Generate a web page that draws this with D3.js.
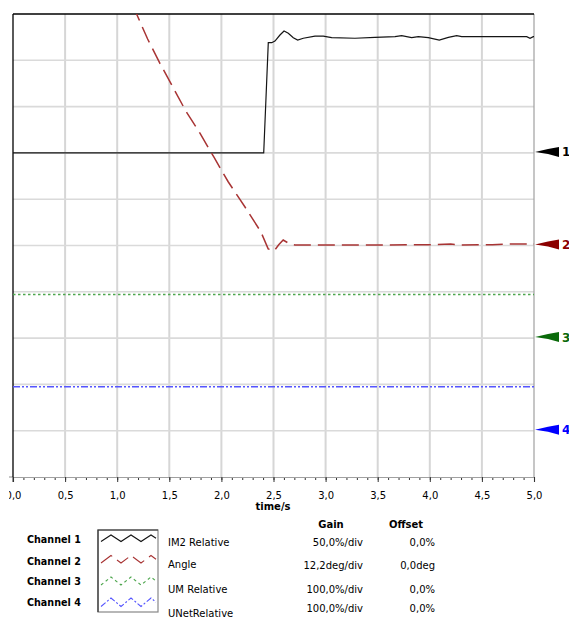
<!DOCTYPE html>
<html>
<head>
<meta charset="utf-8">
<script src="https://cdn.jsdelivr.net/npm/d3@7"></script>
<style>
  html, body { margin: 0; padding: 0; background: #fff; }
  svg { display: block; font-family: "DejaVu Sans", Verdana, sans-serif; }
</style>
</head>
<body>
<svg id="chart" width="569" height="619"></svg>
<script>
// ---- data ----
// Channel 1: IM2 Relative (%)
const ch1Time  = [0, 2.406, 2.450, 2.483, 2.514, 2.562, 2.601, 2.642, 2.690, 2.732, 2.786, 2.898, 2.978, 3.058, 3.282, 3.474, 3.666, 3.730, 3.826, 3.890, 3.986, 4.091, 4.178, 4.258, 4.306, 4.930, 4.962, 4.993, 5.0];
const ch1Value = [0, 0, 119.0, 119.0, 120.8, 127.3, 131.6, 129.2, 124.4, 121.9, 123.8, 126.2, 126.2, 124.4, 123.8, 124.8, 125.5, 126.6, 124.4, 125.5, 124.4, 121.9, 124.8, 126.6, 125.5, 125.5, 123.8, 125.5, 125.5];
// Channel 2: Angle (deg)
const ch2Time  = [1.15, 1.186, 1.292, 1.410, 1.537, 1.659, 1.794, 1.930, 2.065, 2.225, 2.379, 2.449, 2.506, 2.550, 2.593, 2.657, 2.705, 3.0, 3.5, 4.0, 4.2, 4.3, 4.6, 4.8, 5.0];
const ch2Value = [63.4, 61.0, 54.4, 48.0, 41.6, 35.4, 29.6, 23.2, 16.8, 10.2, 3.6, -0.9, -1.45, 0.2, 1.45, 0.4, 0.13, 0.13, 0.13, 0.2, 0.4, 0.13, 0.2, 0.4, 0.4];
// Channel 3: UM Relative (%)
const ch3Time  = [0, 5];
const ch3Value = [94, 94];
// Channel 4: UNetRelative (%)
const ch4Time  = [0, 5];
const ch4Value = [95, 95];

// Channel settings
const channelNames  = ["Channel 1", "Channel 2", "Channel 3", "Channel 4"];
const signalNames   = ["IM2 Relative", "Angle", "UM Relative", "UNetRelative"];
const gains         = [50, 12.2, 100, 100];          // units per division
const offsetsDiv    = [7, 5, 3, 1];                  // zero position in divisions
const gainLabels    = ["50,0%/div", "12,2deg/div", "100,0%/div", "100,0%/div"];
const offsetLabels  = ["0,0%", "0,0deg", "0,0%", "0,0%"];
const xTickValues   = [0, 0.5, 1, 1.5, 2, 2.5, 3, 3.5, 4, 4.5, 5];
const xAxisTitle    = "time/s";

// ---- layout ----
const svg = d3.select("#chart");
const L = 13, R = 534, T = 14, B = 477;

const x = d3.scaleLinear().domain([0, 5]).range([L, R]);
const yDiv = d3.scaleLinear().domain([0, 10]).range([B, T]);

const lineColors   = ["#151515", "#a83434", "#4ea64e", "#5555ff"];
const markerColors = ["#000000", "#8b0000", "#0a6a0a", "#0000ff"];
const dashes       = [null, "17,7", "2.5,2.5", "7,2,2,2,2,2"];

svg.append("rect").attr("width", 569).attr("height", 619).attr("fill", "#fff");

const defs = svg.append("defs");
defs.append("clipPath").attr("id", "plotClip")
  .append("rect").attr("x", L).attr("y", T).attr("width", R - L).attr("height", B - T);
defs.append("clipPath").attr("id", "labelClip")
  .append("rect").attr("x", 9).attr("y", 470).attr("width", 560).attr("height", 60);

// grid
const grid = svg.append("g");
grid.selectAll("line.v").data(d3.range(1, 10)).join("line")
  .attr("x1", d => x(d * 0.5)).attr("x2", d => x(d * 0.5))
  .attr("y1", T).attr("y2", B)
  .attr("stroke", "#d6d6d6").attr("stroke-width", 2);
grid.selectAll("line.h").data(d3.range(1, 10)).join("line")
  .attr("x1", L).attr("x2", R)
  .attr("y1", d => yDiv(d)).attr("y2", d => yDiv(d))
  .attr("stroke", "#dadada").attr("stroke-width", 1.6);

// frame
svg.append("line").attr("x1", R).attr("x2", R).attr("y1", T).attr("y2", B)
  .attr("stroke", "#a0a0a0").attr("stroke-width", 1.2);

// x axis: minor ticks
const minorAxis = d3.axisBottom(x).tickValues(d3.range(0, 51).map(i => i / 10))
  .tickSize(3).tickFormat("");
svg.append("g").attr("transform", `translate(0,${B})`).call(minorAxis)
  .call(g => g.select(".domain").remove())
  .call(g => g.selectAll("line").attr("stroke", "#333"));

// x axis: major ticks and labels (clipped on the left edge)
const fmt = d3.format(".1f");
const majorAxis = d3.axisBottom(x).tickValues(xTickValues)
  .tickSize(5).tickPadding(10).tickFormat(d => fmt(d).replace(".", ","));
const axWrap = svg.append("g").attr("clip-path", "url(#labelClip)");
const ax = axWrap.append("g").attr("transform", `translate(0,${B})`).call(majorAxis);
ax.select(".domain").attr("stroke", "#a0a0a0").attr("stroke-width", 1.2);
ax.selectAll("line").attr("stroke", "#333");
ax.selectAll("text").attr("font-size", 10).attr("fill", "#000")
  .attr("font-family", "DejaVu Sans, Verdana, sans-serif");
// bottom axis line must reach the left frame, outside the label clip
svg.append("line").attr("x1", L).attr("x2", 9).attr("y1", B).attr("y2", B)
  .attr("stroke", "#a0a0a0").attr("stroke-width", 1.2);
svg.append("line").attr("x1", L).attr("x2", L).attr("y1", B).attr("y2", B + 5)
  .attr("stroke", "#333");

svg.append("text").attr("x", 273).attr("y", 510).attr("text-anchor", "middle")
  .attr("font-size", 10).attr("font-weight", "bold").text(xAxisTitle);

svg.append("line").attr("x1", L).attr("x2", R).attr("y1", T).attr("y2", T)
  .attr("stroke", "#000").attr("stroke-width", 1.3);
svg.append("line").attr("x1", L).attr("x2", L).attr("y1", T).attr("y2", B)
  .attr("stroke", "#000").attr("stroke-width", 1.3);

// series
const series = [
  { t: ch1Time, v: ch1Value },
  { t: ch2Time, v: ch2Value },
  { t: ch3Time, v: ch3Value },
  { t: ch4Time, v: ch4Value }
];
const plot = svg.append("g").attr("clip-path", "url(#plotClip)");
series.forEach((s, i) => {
  const pts = s.t.map((t, k) => [t, s.v[k]]);
  const line = d3.line()
    .x(d => x(d[0]))
    .y(d => yDiv(offsetsDiv[i] + d[1] / gains[i]));
  plot.append("path").datum(pts)
    .attr("d", line)
    .attr("fill", "none")
    .attr("stroke", lineColors[i])
    .attr("stroke-width", i === 0 ? 1.2 : 1.5)
    .attr("stroke-dasharray", dashes[i]);
});

// channel offset markers on the right
offsetsDiv.forEach((o, i) => {
  const cy = yDiv(o) - 1;
  svg.append("path")
    .attr("d", `M${R + 1},${cy} L${R + 14},${cy - 3} L${R + 25},${cy - 5} L${R + 25},${cy + 5} L${R + 14},${cy + 2} Z`)
    .attr("fill", markerColors[i]);
  svg.append("text").attr("x", R + 28).attr("y", cy + 4.5)
    .attr("font-size", 12).attr("font-weight", "bold")
    .attr("fill", markerColors[i]).text(String(i + 1));
});

// ---- legend ----
const legend = svg.append("g");
const chY   = [539.5, 561, 581.5, 602.5];
const nameY = [542, 564.5, 589.5, 613];
const valY  = [542.5, 565, 589.5, 608.5];

legend.selectAll("text.ch").data(channelNames).join("text")
  .attr("x", 27).attr("y", (d, i) => chY[i] + 3.8)
  .attr("font-size", 9.6).attr("font-weight", "bold").text(d => d);

legend.append("rect").attr("x", 98).attr("y", 530).attr("width", 60).attr("height", 82)
  .attr("fill", "#fff").attr("stroke", "#888").attr("stroke-width", 1.2);
legend.append("path").attr("d", "M98,612 L98,530 L158,530").attr("fill", "none")
  .attr("stroke", "#333").attr("stroke-width", 1.2);

// zigzag samples inside the legend box
const zigTop = [535, 555.5, 577, 598];
const zigAmp = [6.5, 7.5, 8, 8.5];
lineColors.forEach((c, i) => {
  const pts = d3.range(0, 6).map(k => [101 + k * 10, k % 2 === 0 ? zigTop[i] + zigAmp[i] : zigTop[i]]);
  pts.push([156, zigTop[i] + zigAmp[i] * 0.5]);
  legend.append("path").datum(pts)
    .attr("d", d3.line())
    .attr("fill", "none").attr("stroke", c).attr("stroke-width", 1.1)
    .attr("stroke-dasharray", i === 0 ? null : (i === 1 ? "14,6" : (i === 2 ? "3,3" : "6,2,2,2")));
});

legend.selectAll("text.nm").data(signalNames).join("text")
  .attr("x", 168).attr("y", (d, i) => nameY[i] + 3.6)
  .attr("font-size", 10).text(d => d);

legend.append("text").attr("x", 331).attr("y", 527.5).attr("text-anchor", "middle")
  .attr("font-size", 10).attr("font-weight", "bold").text("Gain");
legend.append("text").attr("x", 406).attr("y", 527.5).attr("text-anchor", "middle")
  .attr("font-size", 10).attr("font-weight", "bold").text("Offset");

legend.selectAll("text.gn").data(gainLabels).join("text")
  .attr("x", 363).attr("y", (d, i) => valY[i] + 3.6).attr("text-anchor", "end")
  .attr("font-size", 10).text(d => d);
legend.selectAll("text.of").data(offsetLabels).join("text")
  .attr("x", 435).attr("y", (d, i) => valY[i] + 3.6).attr("text-anchor", "end")
  .attr("font-size", 10).text(d => d);
</script>
</body>
</html>
